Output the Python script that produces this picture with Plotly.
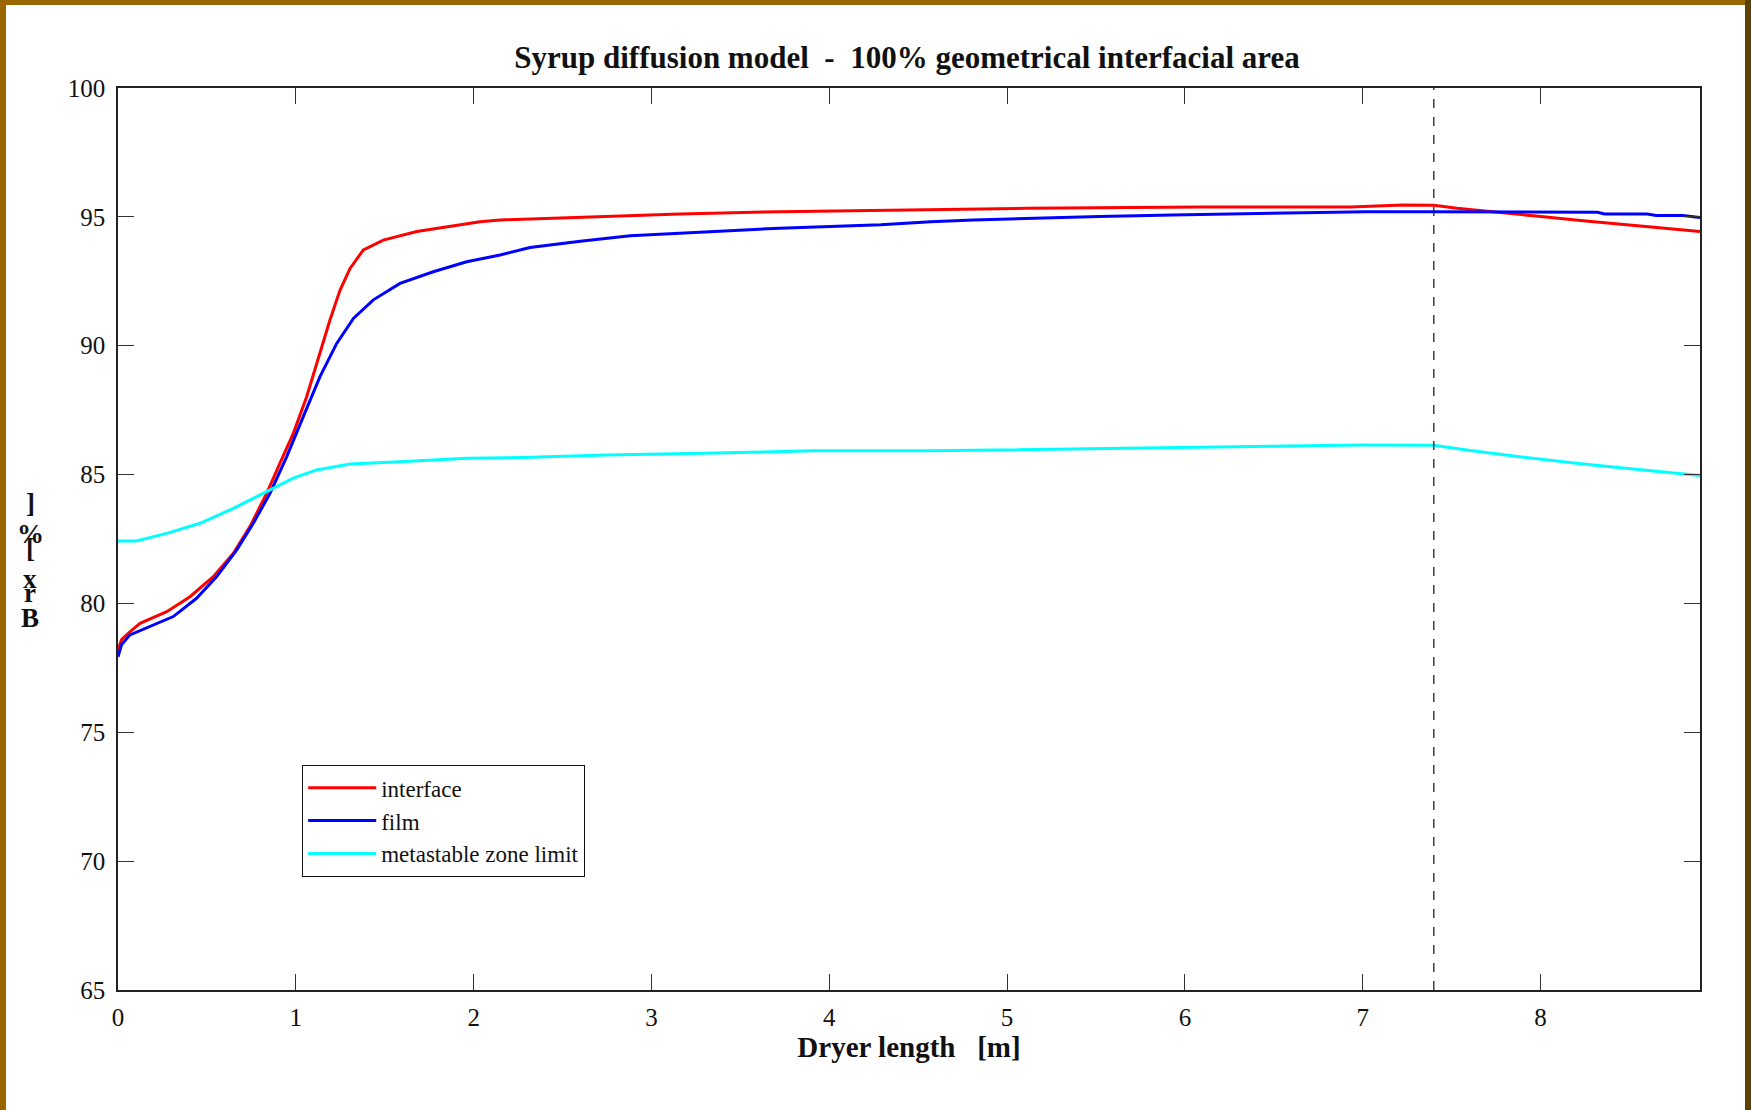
import plotly.graph_objects as go

# ---- data ----
x_interface = [0, 0.02, 0.067, 0.124, 0.274, 0.405, 0.536, 0.649, 0.742, 0.836, 0.911, 0.986,
               1.061, 1.136, 1.192, 1.249, 1.305, 1.380, 1.492, 1.680, 1.867, 2.036, 2.149,
               2.60, 3.16, 3.72, 4.57, 5.11, 6.09, 6.93, 7.23, 7.40, 7.53, 7.735, 7.96, 8.24,
               8.52, 8.80, 8.897]
y_interface = [78.2, 78.6, 78.9, 79.23, 79.68, 80.26, 81.04, 81.95, 82.98, 84.27, 85.44, 86.60,
               88.02, 89.71, 91.0, 92.16, 93.0, 93.72, 94.10, 94.43, 94.62, 94.81, 94.88,
               94.98, 95.11, 95.20, 95.27, 95.33, 95.38, 95.38, 95.46, 95.45, 95.33, 95.20, 95.04, 94.85,
               94.66, 94.49, 94.43]

x_film = [0, 0.02, 0.067, 0.18, 0.311, 0.442, 0.555, 0.667, 0.761, 0.855, 0.949, 1.042, 1.136,
          1.230, 1.324, 1.436, 1.586, 1.773, 1.961, 2.149, 2.317, 2.60, 2.88, 3.16, 3.72, 4.29,
          4.57, 4.81, 5.15, 5.52, 5.93, 6.44, 7.02, 7.40, 8.32, 8.36, 8.60, 8.65, 8.80, 8.897]
y_film = [77.93, 78.4, 78.78, 79.10, 79.49, 80.2, 81.04, 82.07, 83.11, 84.27, 85.70, 87.25, 88.80,
          90.09, 91.06, 91.78, 92.42, 92.87, 93.26, 93.52, 93.81, 94.05, 94.27, 94.36, 94.56, 94.69,
          94.81, 94.88, 94.95, 95.01, 95.07, 95.14, 95.20, 95.20, 95.18, 95.11, 95.11, 95.05, 95.05,
          94.97]

x_meta = [0, 0.103, 0.274, 0.461, 0.649, 0.836, 0.986, 1.117, 1.305, 1.586, 1.961, 2.32, 2.75,
          3.29, 3.91, 4.57, 5.32, 6.12, 6.99, 7.40, 7.585, 7.87, 8.24, 8.62, 8.897]
y_meta = [82.42, 82.42, 82.72, 83.11, 83.69, 84.34, 84.86, 85.18, 85.41, 85.50, 85.63, 85.67, 85.76,
          85.83, 85.92, 85.92, 85.99, 86.08, 86.15, 86.14, 85.95, 85.70, 85.41, 85.15, 84.96]

series_names = ["interface", "film", "metastable zone limit"]
series_colors = ["#ff0000", "#0000ff", "#00ffff"]

dashed_x = 7.40
x_range = [0, 8.897]
y_range = [65, 100]
x_ticks = [0, 1, 2, 3, 4, 5, 6, 7, 8]
y_ticks = [65, 70, 75, 80, 85, 90, 95, 100]

title_text = "Syrup diffusion model  -  100% geometrical interfacial area"
xaxis_title = "Dryer length   [m]"
# y-axis label "Brx [%]" drawn with upright, stacked glyphs (as in the reference)
ylabel_chars = ["]", "%", "[", "x", "r", "B"]
ylabel_ypix = [503, 534, 548, 579, 593, 618]

FONT = "Liberation Serif, Times New Roman, serif"

fig = go.Figure()
for xs, ys, name, col in zip([x_interface, x_film, x_meta], [y_interface, y_film, y_meta],
                             series_names, series_colors):
    fig.add_trace(go.Scatter(x=xs, y=ys, mode="lines", name=name,
                             line=dict(color=col, width=3)))

fig.add_trace(go.Scatter(x=[dashed_x, dashed_x], y=y_range, mode="lines", showlegend=False,
                         line=dict(color="#222222", width=1.3, dash="dash"), hoverinfo="skip"))

W, H = 1751, 1110
L, R, T, B = 118, 51, 88, 120
pw, ph = W - L - R, H - T - B

def px_to_paper_x(px):
    return (px - L) / pw

def px_to_paper_y(py):
    return (H - B - py) / ph

axis_common = dict(showline=True, linecolor="#222222", linewidth=1.5, mirror="ticks",
                   ticks="inside", ticklen=16, tickwidth=1.2, tickcolor="#333333",
                   showgrid=False, zeroline=False,
                   tickfont=dict(family=FONT, size=25, color="#111111"))

fig.update_layout(
    width=W, height=H,
    margin=dict(l=L, r=R, t=T, b=B),
    paper_bgcolor="white", plot_bgcolor="white",
    title=dict(text="<b>" + title_text + "</b>", x=px_to_paper_x(907), xref="paper",
               xanchor="center", y=1 - 57 / H, yanchor="middle",
               font=dict(family=FONT, size=31, color="#111111")),
    xaxis=dict(range=x_range, tickvals=x_ticks, ticklabelstandoff=4,
               title=dict(text="<b>" + xaxis_title + "</b>", standoff=3,
                          font=dict(family=FONT, size=29, color="#111111")),
               **axis_common),
    yaxis=dict(range=y_range, tickvals=y_ticks, ticklabelstandoff=6, **axis_common),
    legend=dict(x=px_to_paper_x(302), y=px_to_paper_y(765), xanchor="left", yanchor="top",
                bgcolor="white", bordercolor="#111111", borderwidth=1.2,
                font=dict(family=FONT, size=23, color="#111111"),
                itemwidth=68, tracegroupgap=0),
    showlegend=True,
)

for ch, yp in zip(ylabel_chars, ylabel_ypix):
    fig.add_annotation(text="<b>" + ch + "</b>", xref="paper", yref="paper",
                       x=px_to_paper_x(30), y=px_to_paper_y(yp), xanchor="center",
                       yanchor="middle", showarrow=False,
                       font=dict(family=FONT, size=27, color="#111111"))

# decorative brown frame around the slide
frame = [
    (0, 0, 6, H, "#9a6600"),
    (0, 0, W, 5, "#9a6600"),
    (W - 6, 0, W, H, "#5e4000"),
]
for x0, y0, x1, y1, col in frame:
    fig.add_shape(type="rect", xref="paper", yref="paper",
                  x0=px_to_paper_x(x0), x1=px_to_paper_x(x1),
                  y0=px_to_paper_y(y1), y1=px_to_paper_y(y0),
                  fillcolor=col, line=dict(width=0), layer="above")

fig.write_html("out.html")
